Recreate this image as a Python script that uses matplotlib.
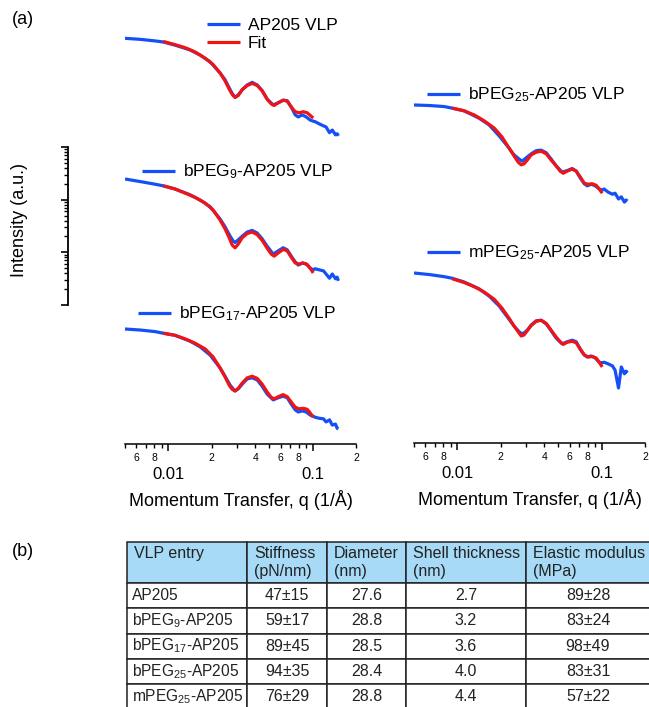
import numpy as np
import matplotlib.pyplot as plt
from matplotlib.ticker import FixedLocator, FixedFormatter, LogLocator, NullFormatter

plt.rcParams['font.family'] = ['Liberation Sans', 'DejaVu Sans']
plt.rcParams['mathtext.fontset'] = 'custom'
plt.rcParams['mathtext.rm'] = 'Liberation Sans'

# ---------------- data (log10 intensity, arbitrary units) ----------------
q_data = [0.0050, 0.0064, 0.0081, 0.0092, 0.0111, 0.0141, 0.0166, 0.0195, 0.0228, 0.0247,
          0.0268, 0.0281, 0.0290, 0.0305, 0.0325, 0.0352, 0.0381, 0.0413, 0.0447, 0.0484,
          0.0533, 0.0577, 0.0625, 0.0667, 0.0711, 0.0758, 0.0795, 0.0848, 0.0904, 0.0963,
          0.101, 0.104, 0.111, 0.119, 0.124, 0.131, 0.137, 0.144, 0.148, 0.151]
q_fit = [0.0092, 0.0111, 0.0131, 0.0153, 0.0180, 0.0204, 0.0228, 0.0247, 0.0264, 0.0277,
         0.0290, 0.0305, 0.0325, 0.0352, 0.0381, 0.0413, 0.0447, 0.0484, 0.0516, 0.0542,
         0.0577, 0.0625, 0.0667, 0.0711, 0.0758, 0.0808, 0.0861, 0.0918, 0.0963, 0.101]

logI_ap205 = [0, -0.02, -0.05, -0.07, -0.13, -0.22, -0.32, -0.45, -0.66, -0.79,
              -0.98, -1.08, -1.12, -1.08, -0.98, -0.89, -0.84, -0.89, -1.00, -1.16,
              -1.27, -1.23, -1.18, -1.19, -1.31, -1.46, -1.50, -1.46, -1.50, -1.56,
              -1.58, -1.59, -1.63, -1.67, -1.69, -1.80, -1.75, -1.84, -1.82, -1.86]
fit_ap205 = [-0.06, -0.12, -0.18, -0.26, -0.38, -0.50, -0.66, -0.81, -0.97, -1.07,
             -1.13, -1.09, -0.98, -0.90, -0.86, -0.90, -1.00, -1.16, -1.25, -1.28,
             -1.23, -1.18, -1.20, -1.31, -1.40, -1.42, -1.40, -1.42, -1.47, -1.52]

logI_bpeg9 = [0, -0.05, -0.10, -0.13, -0.19, -0.30, -0.40, -0.53, -0.76, -0.91,
              -1.09, -1.18, -1.21, -1.16, -1.09, -1.01, -0.98, -1.03, -1.14, -1.28,
              -1.43, -1.37, -1.31, -1.35, -1.47, -1.58, -1.64, -1.60, -1.62, -1.70,
              -1.73, -1.71, -1.73, -1.75, -1.81, -1.89, -1.81, -1.90, -1.87, -1.94]
fit_bpeg9 = [-0.13, -0.19, -0.27, -0.35, -0.46, -0.59, -0.78, -0.95, -1.12, -1.26,
             -1.31, -1.24, -1.12, -1.04, -1.01, -1.06, -1.17, -1.32, -1.43, -1.47,
             -1.41, -1.34, -1.37, -1.49, -1.60, -1.62, -1.60, -1.63, -1.70, -1.79]

logI_bpeg17 = [0, -0.02, -0.05, -0.08, -0.12, -0.23, -0.34, -0.50, -0.74, -0.90,
               -1.07, -1.14, -1.18, -1.14, -1.05, -0.95, -0.93, -0.97, -1.09, -1.24,
               -1.35, -1.31, -1.28, -1.31, -1.43, -1.54, -1.58, -1.56, -1.58, -1.64,
               -1.66, -1.68, -1.70, -1.71, -1.77, -1.73, -1.83, -1.81, -1.89, -1.90]
fit_bpeg17 = [-0.08, -0.12, -0.19, -0.27, -0.38, -0.53, -0.74, -0.91, -1.07, -1.15,
              -1.18, -1.13, -1.03, -0.93, -0.90, -0.94, -1.05, -1.20, -1.30, -1.33,
              -1.29, -1.25, -1.29, -1.39, -1.49, -1.52, -1.51, -1.53, -1.60, -1.68]

logI_bpeg25 = [0, -0.01, -0.03, -0.06, -0.11, -0.25, -0.38, -0.59, -0.82, -0.95,
               -1.03, -1.07, -1.04, -0.99, -0.93, -0.87, -0.86, -0.91, -1.03, -1.16,
               -1.28, -1.25, -1.21, -1.26, -1.39, -1.50, -1.54, -1.51, -1.54, -1.60,
               -1.62, -1.60, -1.66, -1.70, -1.68, -1.79, -1.75, -1.85, -1.81, -1.83]
fit_bpeg25 = [-0.06, -0.11, -0.19, -0.30, -0.44, -0.61, -0.82, -0.97, -1.09, -1.14,
              -1.12, -1.05, -0.95, -0.90, -0.88, -0.93, -1.05, -1.16, -1.26, -1.30,
              -1.26, -1.22, -1.26, -1.37, -1.49, -1.51, -1.50, -1.53, -1.60, -1.68]

logI_mpeg25 = [0, -0.03, -0.07, -0.10, -0.17, -0.30, -0.44, -0.63, -0.88, -1.01,
               -1.12, -1.16, -1.14, -1.09, -0.99, -0.91, -0.90, -0.97, -1.10, -1.24,
               -1.35, -1.31, -1.28, -1.31, -1.45, -1.56, -1.60, -1.58, -1.62, -1.70,
               -1.71, -1.70, -1.73, -1.77, -1.85, -2.19, -1.79, -1.92, -1.87, -1.90]
fit_mpeg25 = [-0.11, -0.18, -0.26, -0.36, -0.50, -0.67, -0.86, -1.01, -1.12, -1.20,
              -1.18, -1.10, -1.00, -0.92, -0.90, -0.96, -1.09, -1.22, -1.31, -1.36,
              -1.32, -1.30, -1.33, -1.45, -1.56, -1.60, -1.59, -1.62, -1.70, -1.79]

sample_labels = ['AP205 VLP', r'bPEG$\mathregular{_9}$-AP205 VLP', r'bPEG$\mathregular{_{17}}$-AP205 VLP',
                 r'bPEG$\mathregular{_{25}}$-AP205 VLP', r'mPEG$\mathregular{_{25}}$-AP205 VLP']

minor_pos = [0.005, 0.006, 0.007, 0.008, 0.009, 0.02, 0.03, 0.04, 0.05, 0.06, 0.07, 0.08, 0.09, 0.2]
minor_lab = ['', '6', '', '8', '', '2', '', '4', '', '6', '', '8', '', '2']

# table
tab_header = ['VLP entry\n ', 'Stiffness\n(pN/nm)', 'Diameter\n(nm)', 'Shell thickness\n(nm)',
              'Elastic modulus\n(MPa)']
entries = ['AP205', r'bPEG$\mathregular{_9}$-AP205', r'bPEG$\mathregular{_{17}}$-AP205',
           r'bPEG$\mathregular{_{25}}$-AP205', r'mPEG$\mathregular{_{25}}$-AP205']
stiffness = ['47±15', '59±17', '89±45', '94±35', '76±29']
diameter = ['27.6', '28.8', '28.5', '28.4', '28.8']
shell = ['2.7', '3.2', '3.6', '4.0', '4.4']
modulus = ['89±28', '83±24', '98±49', '83±31', '57±22']

BLUE = '#1450f5'
RED = '#f01414'

W, H = 649, 707
fig = plt.figure(figsize=(W / 100, H / 100), dpi=100)


def box(x0, y0, x1, y1):
    # pixel box, origin top-left -> figure fraction rect
    return [x0 / W, 1 - y1 / H, (x1 - x0) / W, (y1 - y0) / H]


# panel layout: (data, fit, box, ylim in decades, legend anchor px)
panels = [
    (logI_ap205, fit_ap205, (125, 10, 356, 150), (-2.13, 0.54), (207, 34.5)),
    (logI_bpeg9, fit_bpeg9, (125, 155, 356, 295), (-2.21, 0.457), (142, 172)),
    (logI_bpeg17, fit_bpeg17, (125, 300, 356, 444), (-2.19, 0.552), (138, 314)),
    (logI_bpeg25, fit_bpeg25, (414, 60, 645, 225), (-2.286, 0.857), (427, 95)),
    (logI_mpeg25, fit_mpeg25, (414, 230, 645, 443), (-3.238, 0.819), (427, 253)),
]

for i, (dat, fit, bx, yl, leg) in enumerate(panels):
    ax = fig.add_axes(box(*bx))
    ax.set_xscale('log')
    ax.set_yscale('log')
    l1, = ax.plot(q_data, np.power(10.0, dat), color=BLUE, lw=2.3, solid_capstyle='butt')
    l2, = ax.plot(q_fit, np.power(10.0, fit), color=RED, lw=2.3, solid_capstyle='butt')
    ax.set_xlim(0.005, 0.2)
    ax.set_ylim(10 ** yl[0], 10 ** yl[1])
    for s in ax.spines.values():
        s.set_visible(False)
    ax.tick_params(which='both', left=False, labelleft=False, bottom=False, labelbottom=False)
    if i == 0:
        hs, ls = [l1, l2], [sample_labels[0], 'Fit']
    else:
        hs, ls = [l1], [sample_labels[i]]
    ax.legend(hs, ls, loc='center left', bbox_to_anchor=(leg[0] / W, 1 - leg[1] / H),
              bbox_transform=fig.transFigure, frameon=False, borderpad=0, borderaxespad=0,
              handlelength=1.9, handletextpad=0.45, labelspacing=0.12, fontsize=12.5)
    if i in (2, 4):
        ax.spines['bottom'].set_visible(True)
        ax.spines['bottom'].set_linewidth(1.1)
        ax.set_xticks([0.01, 0.1])
        ax.set_xticklabels(['0.01', '0.1'])
        ax.xaxis.set_minor_locator(FixedLocator(minor_pos))
        ax.xaxis.set_minor_formatter(FixedFormatter(minor_lab))
        ax.tick_params(axis='x', which='major', bottom=True, labelbottom=True, length=5,
                       width=1.1, labelsize=12, pad=11.5, direction='out')
        ax.tick_params(axis='x', which='minor', bottom=True, labelbottom=True, length=3,
                       width=1.0, labelsize=7.5, pad=3.5, direction='out')
        ax.set_xlabel('Momentum Transfer, q (1/Å)', fontsize=13, labelpad=6)

# intensity scale bar (3 decades)
axs = fig.add_axes(box(68, 147, 80, 305))
axs.set_yscale('log')
axs.set_ylim(1, 1000)
for k in ('top', 'right', 'bottom'):
    axs.spines[k].set_visible(False)
axs.spines['left'].set_linewidth(1.3)
axs.patch.set_visible(False)
axs.yaxis.set_major_locator(LogLocator(base=10))
axs.yaxis.set_minor_locator(LogLocator(base=10, subs=np.arange(2, 10)))
axs.yaxis.set_minor_formatter(NullFormatter())
axs.tick_params(axis='y', which='major', length=5, width=1.2, direction='out', labelleft=False)
axs.tick_params(axis='y', which='minor', length=3, width=1.0, direction='out', labelleft=False)
axs.tick_params(axis='x', which='both', bottom=False, labelbottom=False)

fig.text(20 / W, 1 - 220 / H, 'Intensity (a.u.)', rotation=90, ha='center', va='center', fontsize=13)
fig.text(12 / W, 1 - 20 / H, '(a)', ha='left', va='center', fontsize=13)
fig.text(12 / W, 1 - 551 / H, '(b)', ha='left', va='center', fontsize=13)

# ---------------- table ----------------
axt = fig.add_axes([0, 0, 1, 1])
axt.axis('off')
rows = [list(r) for r in zip(entries, stiffness, diameter, shell, modulus)]
col_px = [120, 80, 79, 120, 124]
tab = axt.table(cellText=rows, colLabels=tab_header, cellLoc='center',
                colWidths=[c / sum(col_px) for c in col_px], bbox=box(127, 542, 650, 709))
tab.auto_set_font_size(False)
tab.set_fontsize(11.5)
for (r, c), cell in tab.get_celld().items():
    cell.set_edgecolor('#222222')
    cell.set_linewidth(1.1)
    cell.set_height(41 if r == 0 else 25)
    cell.get_text().set_color('#222222')
    if r == 0:
        cell.set_facecolor('#a6daf6')
        cell.get_text().set_horizontalalignment('left')
        cell.PAD = 7 / col_px[c]
    elif c == 0:
        cell.get_text().set_horizontalalignment('left')
        cell.PAD = 5 / col_px[c]
        cell.get_text().set_fontsize(11.2)

fig.savefig('out.png', dpi=100)
